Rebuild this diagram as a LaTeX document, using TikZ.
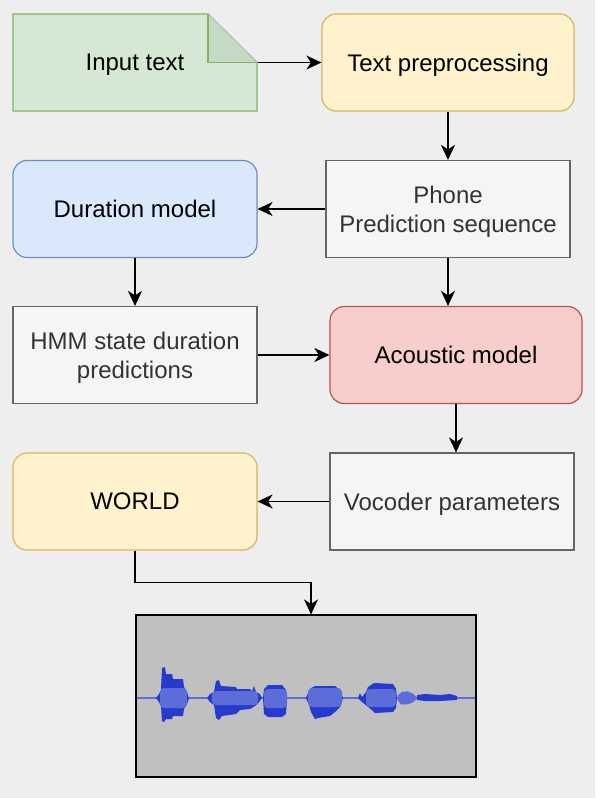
\documentclass[tikz,border=0pt]{standalone}
\usepackage{fontspec}
\setmainfont{Liberation Sans}
\usepackage{tikz}
\usetikzlibrary{arrows.meta}
\usetikzlibrary{positioning}
\definecolor{pagebg}{HTML}{EEEEEE}
\definecolor{greenfill}{HTML}{D5E8D4}
\definecolor{greenfold}{HTML}{C5DAC4}
\definecolor{greenline}{HTML}{82B366}
\definecolor{yellowfill}{HTML}{FFF2CC}
\definecolor{yellowline}{HTML}{D6B656}
\definecolor{bluefill}{HTML}{DAE8FC}
\definecolor{blueline}{HTML}{6C8EBF}
\definecolor{redfill}{HTML}{F8CECC}
\definecolor{redline}{HTML}{B85450}
\definecolor{grayfill}{HTML}{F5F5F5}
\definecolor{grayline}{HTML}{666666}
\definecolor{graytext}{HTML}{333333}
\definecolor{wavebg}{HTML}{C0C0C0}
\definecolor{wavedark}{RGB}{38,58,205}
\definecolor{wavelight}{RGB}{92,108,216}
\tikzstyle{block}=[draw,line width=1.2pt,minimum width=244pt,minimum height=97pt,
                align=center,text depth=-1pt,font=\fontsize{24}{29}\selectfont]
\tikzstyle{rounded}=[block,rounded corners=14pt]
\tikzstyle{greenbox}=[block,draw=none]
\tikzstyle{yellowbox}=[rounded,fill=yellowfill,draw=yellowline]
\tikzstyle{bluebox}=[rounded,fill=bluefill,draw=blueline]
\tikzstyle{redbox}=[rounded,fill=redfill,draw=redline]
\tikzstyle{graybox}=[block,fill=grayfill,draw=grayline,text=graytext]
\tikzstyle{flow}=[-{Stealth[length=15pt,width=14pt,inset=4.5pt]},line width=1.6pt]
\tikzstyle{blob}=[fill=wavedark]
\tikzstyle{core}=[fill=wavelight,rounded corners=4pt]

\begin{document}
\begin{tikzpicture}[x=1pt,y=-1pt]
\fill[pagebg] (0,0) rectangle (595,798);
\useasboundingbox (0,0) rectangle (595,798);
% note shape for the input
\draw[line width=1.2pt,fill=greenfill,draw=greenline] (13,14) -- (208,14) --
(257,62.5) -- (257,111) -- (13,111) -- cycle;
\draw[line width=1.2pt,fill=greenfold,draw=greenline] (208,14) -- (208,62.5) -- (257,62.5);
\node[greenbox] (input) at (135,62.5) {Input text};
\node[yellowbox,minimum width=252pt] (textpre) at (448,62.5) {Text preprocessing};
\node[graybox] (phone) at (448,209) {Phone\\Prediction sequence};
\node[bluebox] (duration) at (135,209) {Duration model};
\node[graybox] (hmm) at (135,355) {HMM state duration\\predictions};
\node[redbox,minimum width=252pt] (acoustic) at (456,355) {Acoustic model};
\node[graybox] (vocoder) at (452,501.5) {Vocoder parameters};
\node[yellowbox] (world) at (135,501.5) {WORLD};
\node[draw,line width=1.2pt,fill=wavebg,minimum width=340pt,minimum height=162pt]
  (wave) at (306,696) {};
\draw[flow] (input.east) -- (textpre.west);
\draw[flow] (textpre.south) -- (phone.north);
\draw[flow] (phone.west) -- (duration.east);
\draw[flow] (duration.south) -- (hmm.north);
\draw[flow] (phone.south) -- (phone.south |- acoustic.north);
\draw[flow] (hmm.east) -- (acoustic.west);
\draw[flow] (acoustic.south) -- (acoustic.south |- vocoder.north);
\draw[flow] (vocoder.west) -- (world.east);
\draw[flow] (world.south) -- ++(0,32) -| ([xshift=5pt]wave.north);
% waveform
\draw[wavelight,line width=1.5pt] (137,698) -- (475,698);
\fill[blob] (156,698) -- (159,694) -- (161,690) -- (162,668) -- (165,667) --
(166,674) -- (172,674) -- (173,679) -- (183,679) -- (184,687) -- (187,692) --
(189,698) -- (187,704) -- (184,709) -- (183,716) -- (173,716) -- (172,719) --
(166,719) -- (164,722) -- (162,721) -- (161,706) -- (159,702) -- cycle;
\fill[core] (160,688) rectangle (187,708);
\fill[blob] (207,698) -- (210,694) -- (214,692) -- (216,681) -- (219,680) --
(221,686) -- (236,687) -- (237,689) -- (250,689) -- (252,691) -- (254,686) --
(256,692) -- (260,694) -- (262,698) -- (259,702) -- (255,706) -- (250,709) --
(240,710) -- (236,714) -- (222,716) -- (219,720) -- (216,718) -- (214,705) --
(210,702) -- cycle;
\fill[core] (212,691) rectangle (258,705);
\fill[blob] (263,698) -- (264,689) -- (268,685) -- (282,685) -- (286,690) --
(287,698) -- (286,714) -- (282,717) -- (268,717) -- (264,714) -- cycle;
\fill[core] (264,689) rectangle (287,708);
\fill[blob] (306,698) -- (308,693) -- (311,688) -- (315,686) -- (335,686) --
(340,690) -- (343,698) -- (340,707) -- (335,712) -- (330,716) -- (318,718) --
(315,719) -- (311,712) -- (309,705) -- cycle;
\fill[core] (308,688) rectangle (342,707);
\fill[blob] (358,698) -- (360,693) -- (362,697) -- (366,692) -- (368,687) --
(374,683) -- (393,684) -- (396,689) -- (397,698) -- (396,708) -- (393,712) --
(375,713) -- (372,710) -- (367,706) -- (362,702) -- cycle;
\fill[core] (366,689) rectangle (396,707);
\fill[core] (397,698) -- (399,693) -- (405,691) -- (410,692) -- (417,696) --
(417,700) -- (410,704) -- (403,705) -- (399,703) -- cycle;
\fill[blob] (417,695) -- (425,694) -- (440,695) -- (450,694) -- (457,696) --
(457,700) -- (440,701) -- (425,701) -- (417,700) -- cycle;
\end{tikzpicture}
\end{document}
